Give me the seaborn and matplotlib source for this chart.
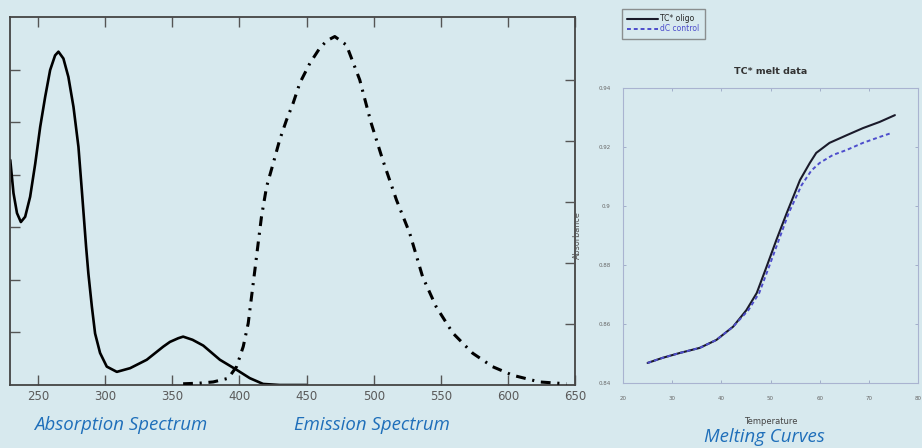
import matplotlib
matplotlib.use("Agg")
import matplotlib.pyplot as plt
import seaborn as sns

# absorption spectrum (left axis, arbitrary units 0-7)
abs_nm = [229.2, 231.6, 234.2, 237.1, 240.3, 244, 247.8, 251.5, 255.2, 258.9, 262.6, 265.1,
          268.8, 272.5, 276.3, 280, 282.5, 285.7, 287.4, 290, 292.4, 296.1, 301.1, 308.6,
          318.5, 330.9, 343.2, 348.2, 354.4, 358, 365, 373, 385.4, 397.8, 407.7, 417.6,
          430, 450]
abs_val = [4.28, 3.65, 3.27, 3.10, 3.20, 3.58, 4.21, 4.91, 5.48, 5.99, 6.27, 6.34,
           6.21, 5.86, 5.29, 4.53, 3.71, 2.63, 2.12, 1.49, 0.98, 0.61, 0.35, 0.25,
           0.32, 0.48, 0.73, 0.82, 0.89, 0.92, 0.86, 0.75, 0.48, 0.29, 0.13, 0.02,
           0.0, 0.0]

# emission spectrum (right axis, 0-6)
em_nm = [358, 370, 380.4, 391.6, 397.8, 402.8, 406.5, 409, 411.5, 413.9, 416.4, 420.2,
         425.1, 430, 435, 440, 445, 452.4, 459.8, 465, 471, 479.7, 489.6, 498, 506.7,
         517, 526.8, 536.5, 546.6, 559, 573.8, 588.6, 603.5, 623.5, 643.6]
em_val = [0.02, 0.03, 0.05, 0.11, 0.30, 0.63, 1.01, 1.45, 1.89, 2.32, 2.76, 3.25,
          3.63, 4.02, 4.34, 4.62, 4.95, 5.27, 5.52, 5.64, 5.71, 5.57, 5.0, 4.3, 3.69,
          3.03, 2.49, 1.77, 1.28, 0.85, 0.52, 0.30, 0.16, 0.05, 0.02]

# melting curves
temp_tc = [25, 28, 31.6, 35.6, 39, 42.4, 45.1, 47.2, 49.2, 51.2, 53.3, 56, 58, 59.3, 62,
           65.5, 68.8, 72.2, 75.3]
abs_tc = [0.8468, 0.8485, 0.8502, 0.8519, 0.8546, 0.8591, 0.8647, 0.8705, 0.8794, 0.8885,
          0.8976, 0.9088, 0.9146, 0.9180, 0.9214, 0.9240, 0.9264, 0.9285, 0.9308]
temp_dc = [25, 28, 31.6, 35.6, 39, 42.4, 45.5, 47.7, 49.7, 51.7, 53.7, 56.3, 58.3, 60,
           62.7, 65.5, 68.8, 72.2, 74.7]
abs_dc = [0.8468, 0.8485, 0.8502, 0.8519, 0.8546, 0.8591, 0.8647, 0.8705, 0.8794, 0.8885,
          0.8976, 0.9070, 0.9120, 0.9146, 0.9173, 0.9190, 0.9214, 0.9234, 0.9248]

spec_ticks = [250, 300, 350, 400, 450, 500, 550, 600, 650]
melt_xticks = [20, 30, 40, 50, 60, 70, 80]
melt_yticks = [0.84, 0.86, 0.88, 0.90, 0.92, 0.94]
melt_ylabels = ["0.84", "0.86", "0.88", "0.9", "0.92", "0.94"]

bg = "#d7e9ee"
blue_txt = "#1f6fba"

sns.set_theme(style="ticks")
plt.rcParams['font.family'] = ['DejaVu Sans']

fig = plt.figure(figsize=(9.22, 4.48), dpi=100, facecolor=bg)

# --- spectra panel ---
ax = fig.add_axes([10 / 922, 63 / 448, 565 / 922, 368 / 448])
ax.set_facecolor("none")
sns.lineplot(x=abs_nm, y=abs_val, ax=ax, color="black", linewidth=1.9,
             estimator=None, sort=False)
ax.set_xlim(229, 650)
ax.set_ylim(0, 7)
ax.set_xticks(spec_ticks)
ax.set_yticks(range(1, 7))
ax.set_yticklabels([])
ax.tick_params(axis="both", direction="in", length=7, width=1, color="#555555",
               top=True, labelsize=8.5, labelcolor="#5a5a5a")
for s in ax.spines.values():
    s.set_color("#444444")
    s.set_linewidth(1.3)

ax2 = ax.twinx()
sns.lineplot(x=em_nm, y=em_val, ax=ax2, color="black", linewidth=2.2,
             estimator=None, sort=False, linestyle=(0, (3.2, 2.2, 0.7, 2.2)))
ax2.set_ylim(0, 6.03)
ax2.set_yticks(range(1, 6))
ax2.set_yticklabels([])
ax2.set_ylabel("")
ax2.tick_params(axis="y", direction="in", length=7, width=1, color="#555555")
for s in ax2.spines.values():
    s.set_visible(False)

fig.text(121 / 922, 1 - 425 / 448, "Absorption Spectrum", color=blue_txt, fontsize=13.4,
         style="italic", family="Open Sans", ha="center", va="center")
fig.text(372 / 922, 1 - 425 / 448, "Emission Spectrum", color=blue_txt, fontsize=13.4,
         style="italic", family="Open Sans", ha="center", va="center")

# --- melting panel ---
mx = fig.add_axes([623 / 922, 65 / 448, 295 / 922, 295 / 448])
mx.set_facecolor("none")
sns.lineplot(x=temp_tc, y=abs_tc, ax=mx, color="#1a1a2a", linewidth=1.5,
             estimator=None, sort=False, label="TC* oligo")
sns.lineplot(x=temp_dc, y=abs_dc, ax=mx, color="#4d4dcc", linewidth=1.4,
             estimator=None, sort=False, linestyle=(0, (2, 1.5)), label="dC control")
mx.set_xlim(20, 80)
mx.set_ylim(0.84, 0.94)
mx.set_xticks(melt_xticks)
mx.set_yticks(melt_yticks)
mx.set_yticklabels(melt_ylabels)
mx.tick_params(axis="both", direction="in", length=2, width=0.6, color="#9aa6c4",
               top=True, right=True, labelsize=4, labelcolor="#666666", pad=9)
for s in mx.spines.values():
    s.set_color("#a9b3d0")
    s.set_linewidth(0.8)
mx.set_title("TC* melt data", fontsize=6.8, fontweight="bold", color="#333333", pad=10)
mx.set_xlabel("Temperature", fontsize=6, color="#444444", labelpad=12)
mx.set_ylabel("Absorbance", fontsize=5.8, color="#555555", labelpad=12)

handles, labels = mx.get_legend_handles_labels()
mx.get_legend().remove()
leg = fig.legend(handles, labels, loc="upper left", bbox_to_anchor=(622 / 922, 1 - 9 / 448),
                 fontsize=5.5, frameon=True, fancybox=False, handlelength=4,
                 borderpad=0.7, labelspacing=0.15, handletextpad=0.3, borderaxespad=0)
leg.get_frame().set_edgecolor("#777777")
leg.get_frame().set_facecolor("none")
leg.get_frame().set_linewidth(1.0)
leg.get_texts()[1].set_color("#4d4dcc")

fig.text(764 / 922, 1 - 437 / 448, "Melting Curves", color=blue_txt, fontsize=13.4,
         style="italic", family="Open Sans", ha="center", va="center")

fig.savefig("out.png", dpi=100, facecolor=bg)
